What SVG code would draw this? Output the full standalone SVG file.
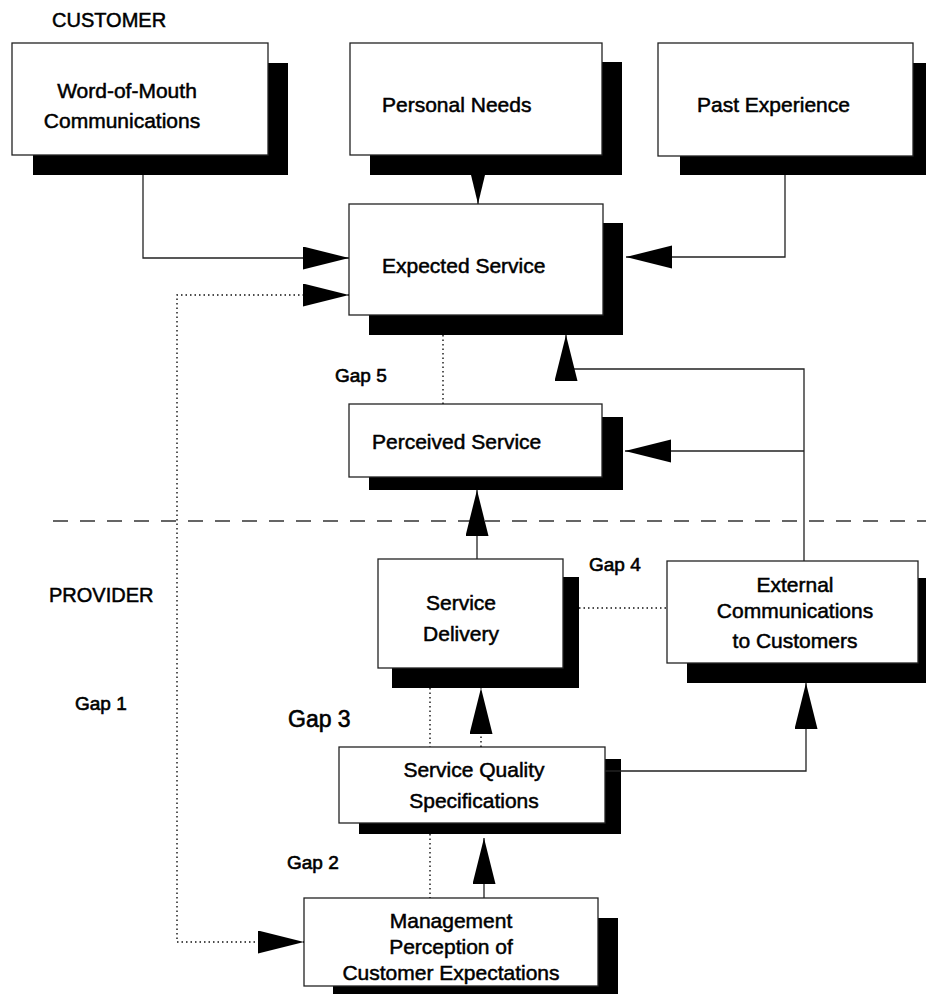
<svg xmlns="http://www.w3.org/2000/svg" width="926" height="994" viewBox="0 0 926 994">
<style>
  .shadow { fill: #000; }
  .box { fill: #fff; stroke: #222; stroke-width: 1.3; }
  .t { font-family: "Liberation Sans", Arial, sans-serif; font-size: 21px; fill: #000; stroke: #000; stroke-width: 0.5; }
  .mid { text-anchor: middle; }
  .lbl { font-family: "Liberation Sans", Arial, sans-serif; font-size: 20px; fill: #000; stroke: #000; stroke-width: 0.5; }
  .gap { font-family: "Liberation Sans", Arial, sans-serif; font-size: 19px; fill: #000; stroke: #000; stroke-width: 0.6; }
  .gap3 { font-size: 23px; }
  .solid { fill: none; stroke: #222; stroke-width: 1.3; }
  .dot { fill: none; stroke: #111; stroke-width: 1.4; stroke-dasharray: 1.5 3; }
  .dash { fill: none; stroke: #333; stroke-width: 1.6; stroke-dasharray: 15 12; }
</style>
<defs>
  <marker id="arr" markerUnits="userSpaceOnUse" markerWidth="47" markerHeight="24" refX="46" refY="11.5" orient="auto-start-reverse">
    <path d="M0,0 L46,11.5 L0,23 Z" fill="#000"/>
  </marker>
  <marker id="arrS" markerUnits="userSpaceOnUse" markerWidth="30" markerHeight="16" refX="29" refY="7" orient="auto">
    <path d="M0,0 L29,7 L0,14 Z" fill="#000"/>
  </marker>
</defs>

<rect width="926" height="994" fill="#fff"/>

<g id="labels">
  <text class="lbl" x="52" y="27">CUSTOMER</text>
  <text class="lbl" x="49" y="602">PROVIDER</text>
  <text class="gap" x="75" y="710">Gap 1</text>
  <text class="gap" x="287" y="869">Gap 2</text>
  <text class="gap gap3" x="288" y="727">Gap 3</text>
  <text class="gap" x="589" y="571">Gap 4</text>
  <text class="gap" x="335" y="382">Gap 5</text>
</g>

<g id="word-of-mouth">
  <rect class="shadow" x="33" y="63" width="255" height="112"/>
  <rect class="box" x="12" y="43" width="256" height="112"/>
  <text class="t mid" x="127" y="98">Word-of-Mouth</text>
  <text class="t mid" x="122" y="128">Communications</text>
</g>

<g id="personal-needs">
  <rect class="shadow" x="370" y="62" width="252" height="113"/>
  <rect class="box" x="350" y="43" width="252" height="112"/>
  <text class="t" x="382" y="112">Personal Needs</text>
</g>

<g id="past-experience">
  <rect class="shadow" x="680" y="63" width="255" height="112"/>
  <rect class="box" x="658" y="43" width="255" height="113"/>
  <text class="t" x="697" y="112">Past Experience</text>
</g>

<g id="expected-service">
  <rect class="shadow" x="369" y="223" width="254" height="112"/>
  <rect class="box" x="349" y="204" width="254" height="111"/>
  <text class="t" x="382" y="273">Expected Service</text>
</g>

<g id="perceived-service">
  <rect class="shadow" x="369" y="417" width="254" height="73"/>
  <rect class="box" x="349" y="404" width="253" height="73"/>
  <text class="t" x="372" y="449">Perceived Service</text>
</g>

<g id="service-delivery">
  <rect class="shadow" x="392" y="577" width="187" height="111"/>
  <rect class="box" x="378" y="559" width="185" height="109"/>
  <text class="t mid" x="461" y="610">Service</text>
  <text class="t mid" x="461" y="641">Delivery</text>
</g>

<g id="external-communications">
  <rect class="shadow" x="687" y="578" width="255" height="105"/>
  <rect class="box" x="667" y="561" width="251" height="102"/>
  <text class="t mid" x="795" y="592">External</text>
  <text class="t mid" x="795" y="618">Communications</text>
  <text class="t mid" x="795" y="648">to Customers</text>
</g>

<g id="service-quality-specifications">
  <rect class="shadow" x="359" y="759" width="262" height="75"/>
  <rect class="box" x="339" y="747" width="266" height="76"/>
  <text class="t mid" x="474" y="777">Service Quality</text>
  <text class="t mid" x="474" y="808">Specifications</text>
</g>

<g id="management-perception">
  <rect class="shadow" x="333" y="918" width="285" height="90"/>
  <rect class="box" x="304" y="898" width="294" height="88"/>
  <text class="t mid" x="451" y="928">Management</text>
  <text class="t mid" x="451" y="954">Perception of</text>
  <text class="t mid" x="451" y="980">Customer Expectations</text>
</g>

<g id="connectors">
  <path class="dash" d="M53,521 H926"/>
  <path class="solid" d="M143,175 V258 H349" marker-end="url(#arr)"/>
  <path class="solid" d="M478,175 V204" marker-end="url(#arrS)"/>
  <path class="solid" d="M785,175 V257 H626" marker-end="url(#arr)"/>
  <path class="dot" d="M349,295 H177 V942 H304" marker-start="url(#arr)" marker-end="url(#arr)"/>
  <path class="dot" d="M443,335 V404"/>
  <path class="solid" d="M804,561 V369 H566 V335" marker-end="url(#arr)"/>
  <path class="solid" d="M804,451 H625" marker-end="url(#arr)"/>
  <path class="solid" d="M477,559 V490" marker-end="url(#arr)"/>
  <path class="dot" d="M579,608 H667"/>
  <path class="dot" d="M430,688 V747"/>
  <path class="dot" d="M481,747 V688" marker-end="url(#arr)"/>
  <path class="solid" d="M605,771 H806 V683" marker-end="url(#arr)"/>
  <path class="dot" d="M430,834 V898"/>
  <path class="solid" d="M484,898 V838" marker-end="url(#arr)"/>
</g>
</svg>
